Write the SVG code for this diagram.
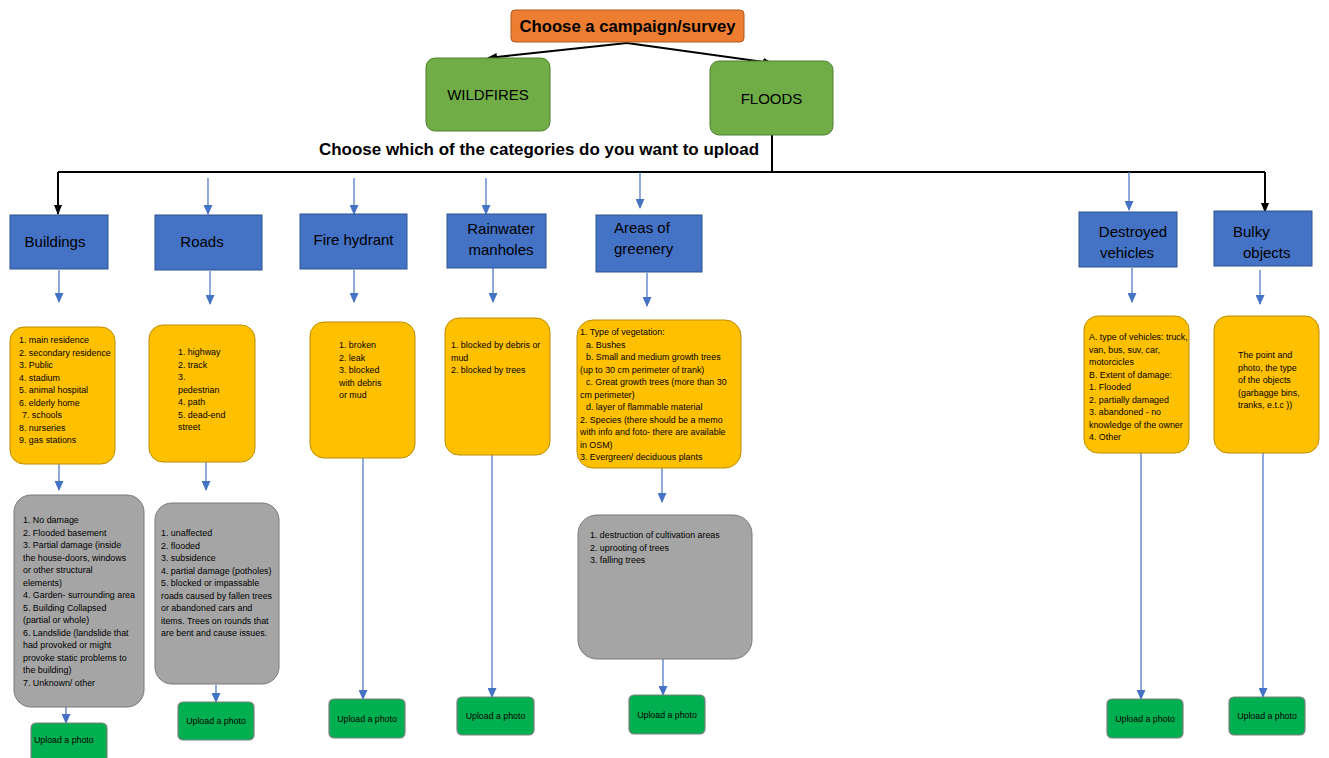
<svg xmlns="http://www.w3.org/2000/svg" width="1329" height="758" viewBox="0 0 1329 758">
  <style>
    .title { fill: #ED7D31; stroke: #AE5A21; stroke-width: 1; }
    .hazard { fill: #70AD47; stroke: #507E32; stroke-width: 1; }
    .cat { fill: #4472C4; stroke: #2F528F; stroke-width: 1; }
    .opt { fill: #FFC000; stroke: #BC8C00; stroke-width: 1; }
    .dmg { fill: #A5A5A5; stroke: #787878; stroke-width: 1; }
    .up { fill: #00B050; stroke: #7F7F7F; stroke-width: 1.2; }
    text { font-family: "Liberation Sans", Arial, sans-serif; fill: #000; }
    .bold { font-weight: bold; }
    .h { font-size: 15px; }
    .c { font-size: 15px; }
    .s { font-size: 8.9px; }
    .u { font-size: 8.8px; }
    .blk { fill: none; stroke: #000; stroke-width: 2; }
    .blu { fill: none; stroke: #4472C4; stroke-width: 1.2; }
  </style>
  <defs>
    <marker id="ab" markerWidth="10" markerHeight="8" refX="9" refY="4" orient="auto" markerUnits="userSpaceOnUse">
      <path d="M0,0 L10,4 L0,8 Z" fill="#000"/>
    </marker>
    <marker id="aw" markerWidth="10" markerHeight="9" refX="9" refY="4.5" orient="auto" markerUnits="userSpaceOnUse">
      <path d="M0,0 L10,4.5 L0,9 Z" fill="#4472C4"/>
    </marker>
  </defs>

  <!-- connectors -->
  <g id="connectors">
    <path class="blk" d="M627,43 L488,58" marker-end="url(#ab)"/>
    <path class="blk" d="M627,43 L772,63" marker-end="url(#ab)"/>
    <path class="blk" d="M772,135 L772,172 M58,172 L1265,172"/>
    <path class="blk" d="M58,172 L58,214" marker-end="url(#ab)"/>
    <path class="blk" d="M1265,172 L1265,212" marker-end="url(#ab)"/>
    <!-- branch to each category -->
    <path class="blu" d="M208,178 L208,214" marker-end="url(#aw)"/>
    <path class="blu" d="M354,178 L354,214" marker-end="url(#aw)"/>
    <path class="blu" d="M486,178 L486,214" marker-end="url(#aw)"/>
    <path class="blu" d="M640,172 L640,208" marker-end="url(#aw)"/>
    <path class="blu" d="M1129,172 L1129,210" marker-end="url(#aw)"/>
    <!-- category to options -->
    <path class="blu" d="M59,270 L59,302" marker-end="url(#aw)"/>
    <path class="blu" d="M210,271 L210,304" marker-end="url(#aw)"/>
    <path class="blu" d="M354,270 L354,302" marker-end="url(#aw)"/>
    <path class="blu" d="M493,268 L493,302" marker-end="url(#aw)"/>
    <path class="blu" d="M647,273 L647,306" marker-end="url(#aw)"/>
    <path class="blu" d="M1132,268 L1132,302" marker-end="url(#aw)"/>
    <path class="blu" d="M1260,270 L1260,304" marker-end="url(#aw)"/>
    <!-- options to damage -->
    <path class="blu" d="M59,464 L59,490" marker-end="url(#aw)"/>
    <path class="blu" d="M206,462 L206,490" marker-end="url(#aw)"/>
    <path class="blu" d="M662,468 L662,502" marker-end="url(#aw)"/>
    <!-- to upload -->
    <path class="blu" d="M66,707 L66,723" marker-end="url(#aw)"/>
    <path class="blu" d="M216,685 L216,702" marker-end="url(#aw)"/>
    <path class="blu" d="M663,638 L663,695" marker-end="url(#aw)"/>
    <path class="blu" d="M363,458 L363,699" marker-end="url(#aw)"/>
    <path class="blu" d="M492,455 L492,697" marker-end="url(#aw)"/>
    <path class="blu" d="M1141,453 L1141,699" marker-end="url(#aw)"/>
    <path class="blu" d="M1263,453 L1263,697" marker-end="url(#aw)"/>
  </g>

  <!-- top -->
  <g id="campaign">
    <rect class="title" x="511" y="10" width="233" height="32" rx="4"/>
    <text class="bold" x="627.5" y="32" font-size="17" text-anchor="middle" textLength="216" lengthAdjust="spacingAndGlyphs">Choose a campaign/survey</text>
  </g>
  <g id="wildfires">
    <rect class="hazard" x="426" y="58" width="124" height="73" rx="9"/>
    <text class="h" x="488" y="100" text-anchor="middle">WILDFIRES</text>
  </g>
  <g id="floods">
    <rect class="hazard" x="710" y="61" width="123" height="74" rx="9"/>
    <text class="h" x="771.5" y="104" text-anchor="middle">FLOODS</text>
  </g>
  <text class="bold" x="539" y="155" font-size="16" text-anchor="middle" textLength="440" lengthAdjust="spacingAndGlyphs">Choose which of the categories do you want to upload</text>

  <!-- Buildings -->
  <g id="buildings">
    <rect class="cat" x="10" y="215" width="98" height="54"/>
    <text class="c" x="55" y="247" text-anchor="middle">Buildings</text>
    <rect class="opt" x="10" y="327" width="105" height="137" rx="14"/>
    <text class="s">
      <tspan x="19" y="343">1. main residence</tspan>
      <tspan x="19" y="355.5">2. secondary residence</tspan>
      <tspan x="19" y="368">3. Public</tspan>
      <tspan x="19" y="380.5">4. stadium</tspan>
      <tspan x="19" y="393">5. animal hospital</tspan>
      <tspan x="19" y="405.5">6. elderly home</tspan>
      <tspan x="22" y="418">7. schools</tspan>
      <tspan x="19" y="430.5">8. nurseries</tspan>
      <tspan x="19" y="443">9. gas stations</tspan>
    </text>
    <rect class="dmg" x="14" y="495" width="130" height="212" rx="17"/>
    <text class="s">
      <tspan x="23" y="523">1. No damage</tspan>
      <tspan x="23" y="535.5">2. Flooded basement</tspan>
      <tspan x="23" y="548">3. Partial damage (inside</tspan>
      <tspan x="23" y="560.5">the house-doors, windows</tspan>
      <tspan x="23" y="573">or other structural</tspan>
      <tspan x="23" y="585.5">elements)</tspan>
      <tspan x="23" y="598">4. Garden- surrounding area</tspan>
      <tspan x="23" y="610.5">5. Building Collapsed</tspan>
      <tspan x="23" y="623">(partial or whole)</tspan>
      <tspan x="23" y="635.5">6. Landslide (landslide that</tspan>
      <tspan x="23" y="648">had provoked or might</tspan>
      <tspan x="23" y="660.5">provoke static problems to</tspan>
      <tspan x="23" y="673">the building)</tspan>
      <tspan x="23" y="685.5">7. Unknown/ other</tspan>
    </text>
    <rect class="up" x="31" y="723" width="76" height="40" rx="5"/>
    <text class="u" x="34" y="743">Upload a photo</text>
  </g>

  <!-- Roads -->
  <g id="roads">
    <rect class="cat" x="155" y="215" width="107" height="55"/>
    <text class="c" x="202" y="247" text-anchor="middle">Roads</text>
    <rect class="opt" x="149" y="325" width="106" height="137" rx="14"/>
    <text class="s">
      <tspan x="178" y="355">1. highway</tspan>
      <tspan x="178" y="367.5">2. track</tspan>
      <tspan x="178" y="380">3.</tspan>
      <tspan x="178" y="392.5">pedestrian</tspan>
      <tspan x="178" y="405">4. path</tspan>
      <tspan x="178" y="417.5">5. dead-end</tspan>
      <tspan x="178" y="430">street</tspan>
    </text>
    <rect class="dmg" x="155" y="503" width="124" height="181" rx="17"/>
    <text class="s">
      <tspan x="161" y="536">1. unaffected</tspan>
      <tspan x="161" y="548.5">2. flooded</tspan>
      <tspan x="161" y="561">3. subsidence</tspan>
      <tspan x="161" y="573.5">4. partial damage (potholes)</tspan>
      <tspan x="161" y="586">5. blocked or impassable</tspan>
      <tspan x="161" y="598.5">roads caused by fallen trees</tspan>
      <tspan x="161" y="611">or abandoned cars and</tspan>
      <tspan x="161" y="623.5">items. Trees on rounds that</tspan>
      <tspan x="161" y="636">are bent and cause issues.</tspan>
    </text>
    <rect class="up" x="178" y="702" width="76" height="38" rx="5"/>
    <text class="u" x="216" y="724" text-anchor="middle">Upload a photo</text>
  </g>

  <!-- Fire hydrant -->
  <g id="fire-hydrant">
    <rect class="cat" x="300" y="214" width="107" height="55"/>
    <text class="c" x="353.5" y="245" text-anchor="middle">Fire hydrant</text>
    <rect class="opt" x="310" y="322" width="105" height="136" rx="14"/>
    <text class="s">
      <tspan x="339" y="348">1. broken</tspan>
      <tspan x="339" y="360.5">2. leak</tspan>
      <tspan x="339" y="373">3. blocked</tspan>
      <tspan x="339" y="385.5">with debris</tspan>
      <tspan x="339" y="398">or mud</tspan>
    </text>
    <rect class="up" x="329" y="699" width="76" height="39" rx="5"/>
    <text class="u" x="367" y="722" text-anchor="middle">Upload a photo</text>
  </g>

  <!-- Rainwater manholes -->
  <g id="rainwater-manholes">
    <rect class="cat" x="447" y="214" width="99" height="54"/>
    <text class="c" x="501" y="234" text-anchor="middle">Rainwater</text>
    <text class="c" x="501" y="255" text-anchor="middle">manholes</text>
    <rect class="opt" x="445" y="318" width="105" height="137" rx="14"/>
    <text class="s">
      <tspan x="451" y="348">1. blocked by debris or</tspan>
      <tspan x="451" y="360.5">mud</tspan>
      <tspan x="451" y="373">2. blocked by trees</tspan>
    </text>
    <rect class="up" x="457" y="697" width="77" height="38" rx="5"/>
    <text class="u" x="495.5" y="719" text-anchor="middle">Upload a photo</text>
  </g>

  <!-- Areas of greenery -->
  <g id="areas-of-greenery">
    <rect class="cat" x="596" y="215" width="106" height="57"/>
    <text class="c" x="614" y="233">Areas of</text>
    <text class="c" x="614" y="254">greenery</text>
    <rect class="opt" x="577" y="320" width="164" height="148" rx="16"/>
    <text class="s">
      <tspan x="580" y="335">1. Type of vegetation:</tspan>
      <tspan x="586" y="347.5">a. Bushes</tspan>
      <tspan x="586" y="360">b. Small and medium growth trees</tspan>
      <tspan x="580" y="372.5">(up to 30 cm perimeter of trank)</tspan>
      <tspan x="586" y="385">c. Great growth trees (more than 30</tspan>
      <tspan x="580" y="397.5">cm perimeter)</tspan>
      <tspan x="586" y="410">d. layer of flammable material</tspan>
      <tspan x="580" y="422.5">2. Species (there should be a memo</tspan>
      <tspan x="580" y="435">with info and foto- there are available</tspan>
      <tspan x="580" y="447.5">in OSM)</tspan>
      <tspan x="580" y="460">3. Evergreen/ deciduous plants</tspan>
    </text>
    <rect class="dmg" x="578" y="515" width="174" height="144" rx="19"/>
    <text class="s">
      <tspan x="590" y="538">1. destruction of cultivation areas</tspan>
      <tspan x="590" y="550.5">2. uprooting of trees</tspan>
      <tspan x="590" y="563">3. falling trees</tspan>
    </text>
    <rect class="up" x="629" y="695" width="76" height="39" rx="5"/>
    <text class="u" x="667" y="718" text-anchor="middle">Upload a photo</text>
  </g>

  <!-- Destroyed vehicles -->
  <g id="destroyed-vehicles">
    <rect class="cat" x="1079" y="212" width="98" height="55"/>
    <text class="c" x="1133" y="237" text-anchor="middle">Destroyed</text>
    <text class="c" x="1127" y="258" text-anchor="middle">vehicles</text>
    <rect class="opt" x="1084" y="316" width="105" height="137" rx="14"/>
    <text class="s">
      <tspan x="1089" y="340">A. type of vehicles: truck,</tspan>
      <tspan x="1089" y="352.5">van, bus, suv, car,</tspan>
      <tspan x="1089" y="365">motorcicles</tspan>
      <tspan x="1089" y="377.5">B. Extent of damage:</tspan>
      <tspan x="1089" y="390">1. Flooded</tspan>
      <tspan x="1089" y="402.5">2. partially damaged</tspan>
      <tspan x="1089" y="415">3. abandoned - no</tspan>
      <tspan x="1089" y="427.5">knowledge of the owner</tspan>
      <tspan x="1089" y="440">4. Other</tspan>
    </text>
    <rect class="up" x="1107" y="699" width="76" height="39" rx="5"/>
    <text class="u" x="1145" y="722" text-anchor="middle">Upload a photo</text>
  </g>

  <!-- Bulky objects -->
  <g id="bulky-objects">
    <rect class="cat" x="1214" y="211" width="98" height="55"/>
    <text class="c" x="1233" y="237">Bulky</text>
    <text class="c" x="1243" y="258">objects</text>
    <rect class="opt" x="1214" y="316" width="105" height="137" rx="14"/>
    <text class="s">
      <tspan x="1238" y="358">The point and</tspan>
      <tspan x="1238" y="370.5">photo, the type</tspan>
      <tspan x="1238" y="383">of the objects</tspan>
      <tspan x="1238" y="395.5">(garbagge bins,</tspan>
      <tspan x="1238" y="408">tranks, e.t.c ))</tspan>
    </text>
    <rect class="up" x="1229" y="697" width="76" height="38" rx="5"/>
    <text class="u" x="1267" y="719" text-anchor="middle">Upload a photo</text>
  </g>
</svg>
